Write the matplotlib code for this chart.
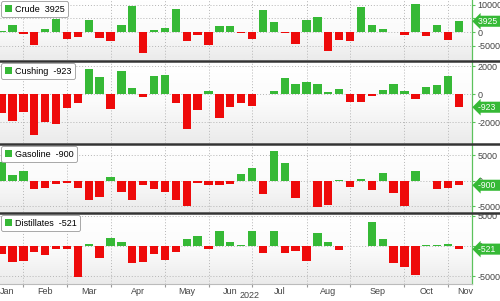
import numpy as np
import matplotlib
matplotlib.use("Agg")
import matplotlib.pyplot as plt
from matplotlib.patches import Patch
from matplotlib.colors import LinearSegmentedColormap
from matplotlib.transforms import blended_transform_factory

plt.rcParams['font.family'] = ['Liberation Sans', 'DejaVu Sans']

# Weekly changes (thousand barrels), Jan - end Oct 2022
crude = [500, 2400, -900, -4600, 1100, 4600, -2400, -1700, 4300, -2300, -3200,
         2400, 9400, -7700, 600, 1300, 8500, -3200, -1000, -4900, 2100, 2100,
         -300, -2600, 8200, 3500, -400, -4400, 4500, 5600, -6800, -2900, -3200,
         9000, 2600, 1200, 100, -1000, 10100, -1500, 2700, -3000, 3925]
cushing = [-1360, -1900, -1240, -2900, -2000, -2140, -1000, -640, 1810, 1260,
           -1050, 1670, 430, -210, 1310, 1400, -640, -2500, -1120, 240, -1670,
           -880, -600, -830, 50, 260, 1140, 710, 900, 740, 170, 380, -570, -550,
           -140, 310, 710, 240, -330, 550, 640, 1310, -923]
gasoline = [3600, 1100, 2000, -1640, -1380, -660, -530, -1380, -3800, -3160,
            660, -2170, -3800, -860, -1640, -2300, -3800, -4930, -530, -860,
            -860, -720, 1300, 2570, -2630, 5860, 3420, -3360, -100, -5130, -4800,
            100, -1320, 260, -1910, 1450, -2500, -4930, 1910, -50, -1640, -1380,
            -900]
distillates = [-1390, -2720, -2440, -940, -1500, -500, -500, -5100, 280, -2060,
               1280, 720, -2890, -2610, -1390, -2330, -940, 1110, 1610, -500,
               2560, 610, 110, 2500, -1220, 2560, -1220, -830, -2440, 2110, 720,
               -610, 60, 60, 4060, 1170, -2890, -3440, -4830, 170, 170, 330, -521]

names = ['Crude', 'Cushing', 'Gasoline', 'Distillates']
series = [crude, cushing, gasoline, distillates]
yticks = [[-5000, 0, 5000, 10000], [-2000, 0, 2000], [-5000, 0, 5000], [-5000, 0, 5000]]
ylims = [(-10219, 11679), (-3479, 2307), (-6174, 7041), (-6333, 5333)]

months = ['Jan', 'Feb', 'Mar', 'Apr', 'May', 'Jun', 'Jul', 'Aug', 'Sep', 'Oct', 'Nov']
month_pos = [0.5, 4, 8, 12.5, 17, 21, 25.5, 30, 34.5, 39, 42.6]
month_bounds = [2, 6, 10, 15, 19, 23, 28, 32, 37, 41]

GREEN = '#36b936'
RED = '#ee0a0a'
AXGREEN = '#5cc25c'

W, H = 500, 301
fig = plt.figure(figsize=(W / 100, H / 100), dpi=100)
fig.patch.set_facecolor('white')

# panel extents in pixels (top, bottom)
panels = [(0, 60), (62, 143), (145, 212), (214, 284)]
right = 472

bg = LinearSegmentedColormap.from_list('bg', ['#ebebeb', '#fbfbfb', '#ffffff'])
weeks = np.arange(len(crude))

for i, (name, vals) in enumerate(zip(names, series)):
    top, bot = panels[i]
    ax = fig.add_axes([0, 1 - bot / H, right / W, (bot - top) / H])
    ax.imshow(np.linspace(0, 1, 50)[:, None], extent=[0, 1, 0, 1],
              transform=ax.transAxes, cmap=bg, aspect='auto', zorder=0,
              origin='lower')
    vals = np.array(vals)
    colors = [GREEN if v >= 0 else RED for v in vals]
    ax.bar(weeks, vals, width=0.77, color=colors, zorder=3)

    ax.set_xlim(-0.15, 43.2)
    ax.set_ylim(*ylims[i])
    ax.set_yticks(yticks[i])
    ax.yaxis.tick_right()
    ax.tick_params(axis='y', labelsize=6.5, length=2, pad=2, color=AXGREEN,
                   labelcolor='#444444')
    ax.yaxis.set_major_formatter(plt.FuncFormatter(lambda v, p: f"{int(v)}"))

    for yv in yticks[i]:
        ax.axhline(yv, color='#b5b5b5', lw=0.7, ls=(0, (1, 2)), zorder=1)
    for xb in month_bounds:
        ax.axvline(xb, color='#b5b5b5', lw=0.7, ls=(0, (1, 2)), zorder=1)

    for s in ['left', 'top']:
        ax.spines[s].set_visible(False)
    ax.spines['right'].set_color(AXGREEN)
    ax.spines['right'].set_linewidth(0.9)
    ax.spines['bottom'].set_visible(i == 3)
    ax.spines['bottom'].set_color('#bbbbbb')

    if i == 3:
        ax.set_xticks(month_bounds)
        ax.set_xticklabels([])
        ax.tick_params(axis='x', length=2, color='#999999')
        ax.set_xticks(month_pos, minor=True)
        ax.set_xticklabels(months, minor=True)
        ax.tick_params(axis='x', which='minor', length=0, labelsize=6.5,
                       pad=2, labelcolor='#444444')
    else:
        ax.set_xticks([])

    last = vals[-1]
    leg = ax.legend(handles=[Patch(facecolor=GREEN, edgecolor='none')],
                    labels=[f"{name}  {last:g}"], loc='upper left',
                    fontsize=6.5, handlelength=0.8, handleheight=0.8,
                    handletextpad=0.4, borderpad=0.35, borderaxespad=0.15,
                    fancybox=True, framealpha=1, edgecolor='#9a9a9a')
    leg.get_frame().set_linewidth(0.6)
    leg.set_zorder(5)

    trans = blended_transform_factory(ax.transAxes, ax.transData)
    ax.text(1.013, last, f"{last:g}   ", transform=trans, ha='left', va='center',
            fontsize=6.2, color='white', zorder=6, clip_on=False,
            bbox=dict(boxstyle='larrow,pad=0.12', fc=GREEN, ec='none'))

# dark separators between panels
for y in [61, 144, 213]:
    fig.add_artist(plt.Line2D([0, 1], [1 - y / H, 1 - y / H], color='#333333',
                              lw=1.8, transform=fig.transFigure))

fig.text(250 / W, 1 - 296 / H, '2022', ha='center', va='center',
         fontsize=6.5, color='#444444')

fig.savefig('out.png', dpi=100)
